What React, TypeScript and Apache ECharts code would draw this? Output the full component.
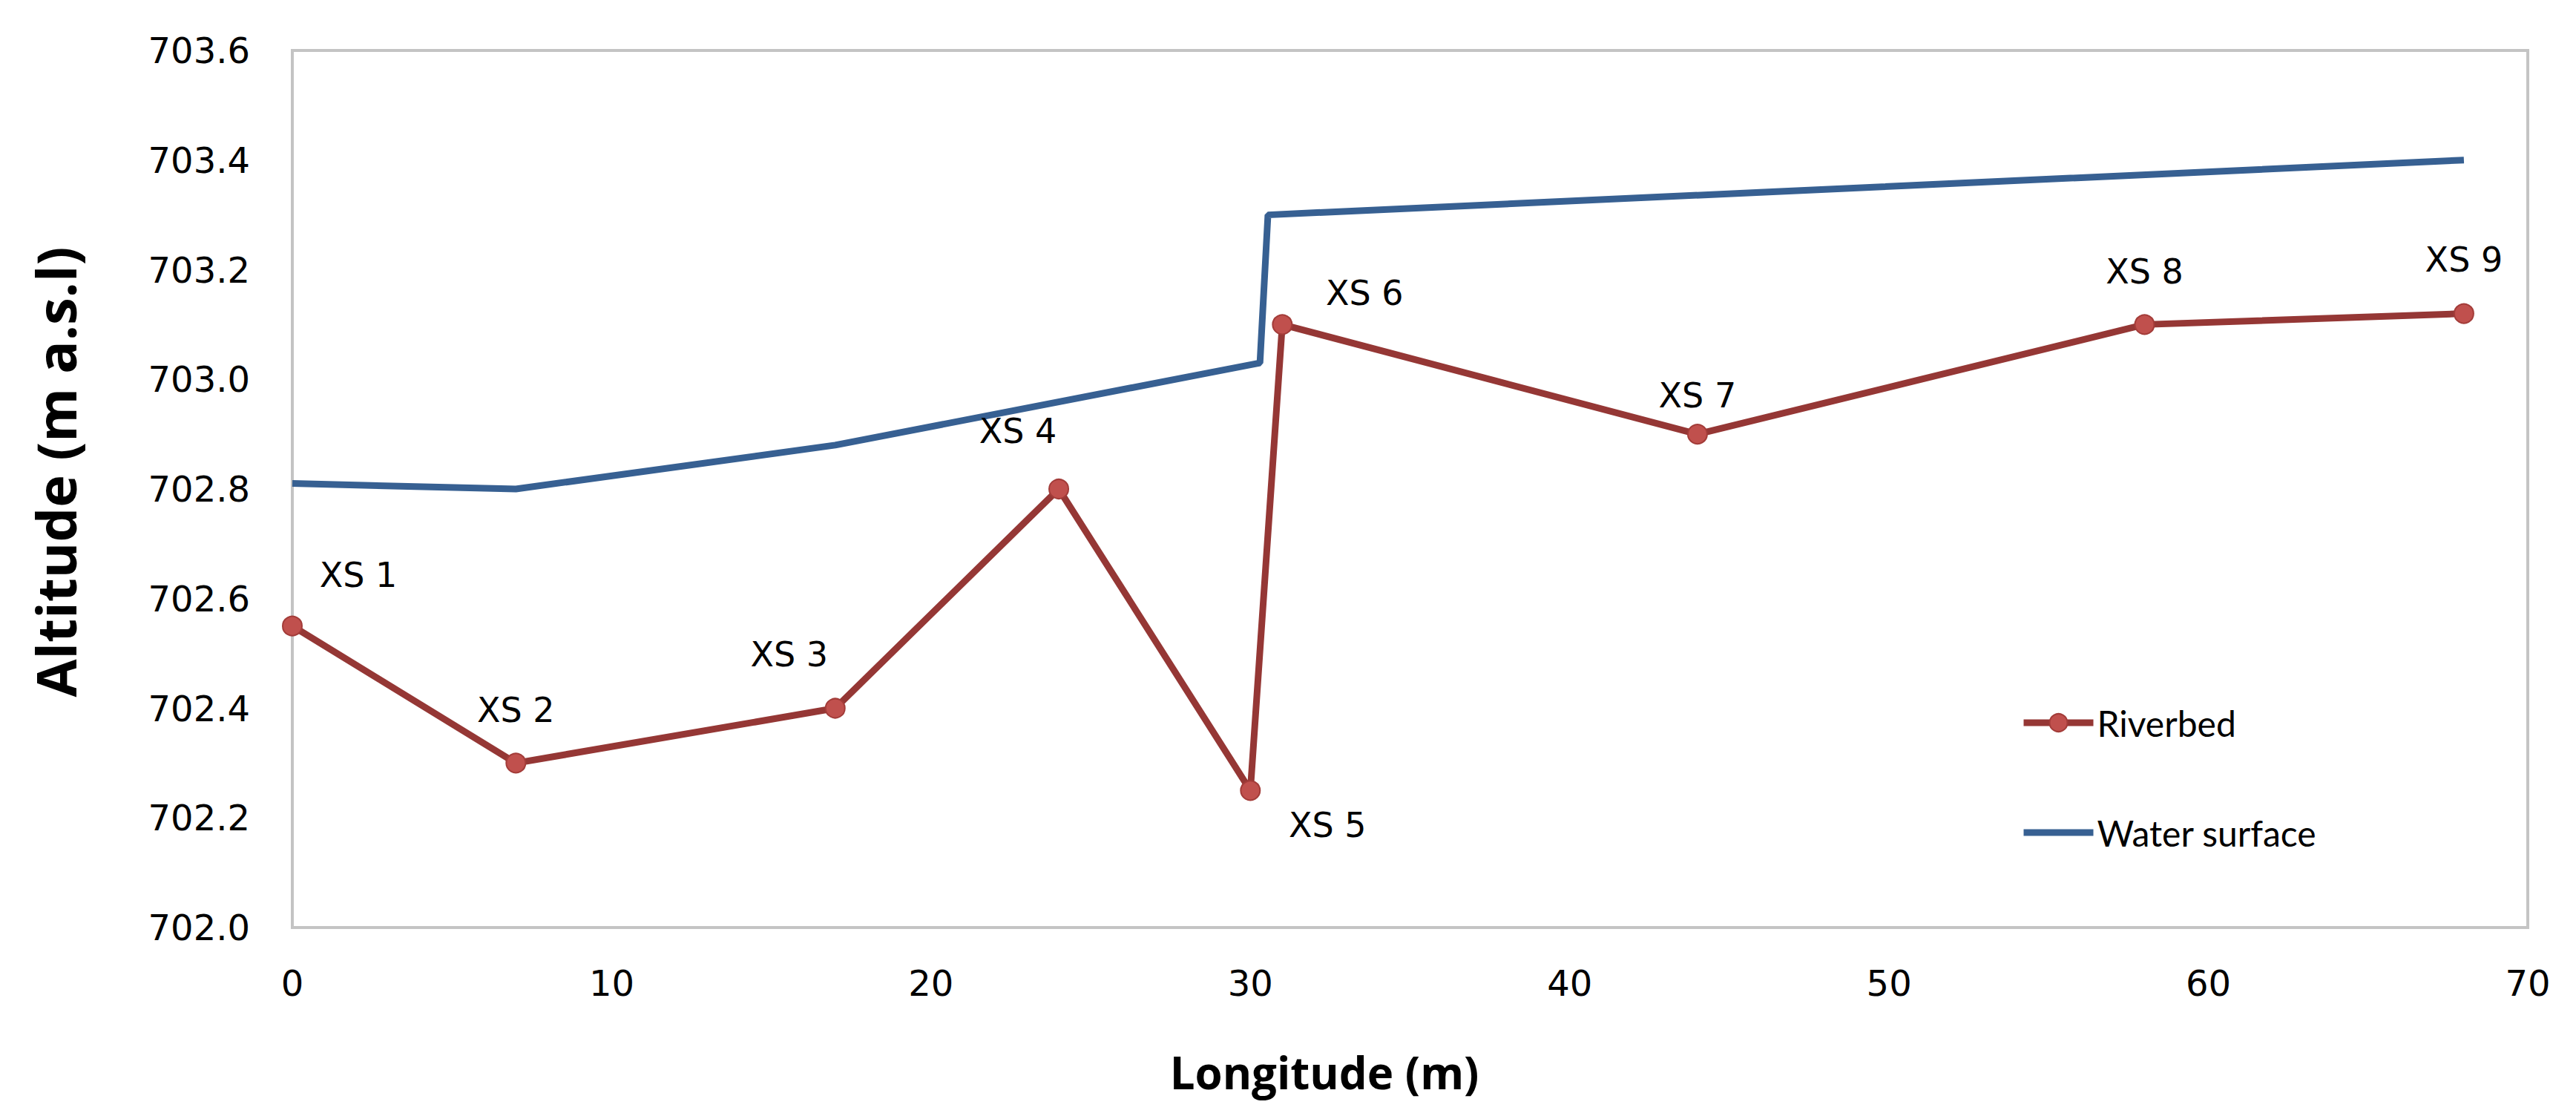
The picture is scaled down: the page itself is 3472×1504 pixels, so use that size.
import React, { useEffect, useRef } from "react";
import * as echarts from "echarts";

// ---- data ----
const sectionNames = ["XS 1", "XS 2", "XS 3", "XS 4", "XS 5", "XS 6", "XS 7", "XS 8", "XS 9"];
const riverbedX = [0, 7, 17, 24, 30, 31, 44, 58, 68];
const riverbedY = [702.55, 702.3, 702.4, 702.8, 702.25, 703.1, 702.9, 703.1, 703.12];
const waterX = [0, 7, 17, 30.3, 30.55, 68];
const waterY = [702.81, 702.8, 702.88, 703.03, 703.3, 703.4];
const xTicks = { min: 0, max: 70, interval: 10 };
const yTicks = { min: 702, max: 703.6, interval: 0.2 };

// label offsets (pixels) for each section label, relative to its marker
const labelOffsets: [number, number][] = [
  [89, -69],
  [0, -71],
  [-62, -73],
  [-55, -78],
  [104, 47],
  [111, -42],
  [0, -52],
  [0, -71],
  [0, -73],
];

const TICK_FONT = "DejaVu Sans";
const TITLE_FONT = "Open Sans";

export default function App() {
  const ref = useRef<HTMLDivElement>(null);
  useEffect(() => {
    if (!ref.current) return;
    const chart = echarts.init(ref.current, undefined, { renderer: "svg" });
    const option = {
      animation: false,
      backgroundColor: "#ffffff",
      grid: {
        left: 394,
        right: 65,
        top: 68,
        bottom: 254,
        show: true,
        borderColor: "#c4c4c4",
        borderWidth: 4,
        backgroundColor: "transparent",
        containLabel: false,
      },
      legend: {
        orient: "vertical",
        left: 2718,
        top: 939,
        itemWidth: 94,
        itemHeight: 30,
        itemGap: 88,
        lineStyle: { width: 9 },
        data: [
          { name: "Riverbed" },
          { name: "Water surface", icon: "path://M0,0L94,0L94,9L0,9Z" },
        ],
        textStyle: { fontFamily: "Lato", fontSize: 48, color: "#000", lineHeight: 60 },
      },
      xAxis: {
        type: "value",
        min: xTicks.min,
        max: xTicks.max,
        interval: xTicks.interval,
        axisLine: { show: false },
        axisTick: { show: false },
        splitLine: { show: false },
        axisLabel: { fontFamily: TICK_FONT, fontSize: 48, color: "#000", margin: 51 },
      },
      yAxis: {
        type: "value",
        min: yTicks.min,
        max: yTicks.max,
        interval: yTicks.interval,
        axisLine: { show: false },
        axisTick: { show: false },
        splitLine: { show: false },
        axisLabel: {
          fontFamily: TICK_FONT,
          fontSize: 48,
          color: "#000",
          margin: 57,
          formatter: (v: number) => v.toFixed(1),
        },
      },
      graphic: [
        {
          type: "text",
          x: 1785,
          y: 1445,
          style: {
            text: "Longitude (m)",
            fontFamily: TITLE_FONT,
            fontWeight: "bold",
            fontSize: 60,
            fill: "#000",
            textAlign: "center",
            textVerticalAlign: "middle",
          },
        },
        {
          type: "text",
          x: 74,
          y: 636,
          rotation: Math.PI / 2,
          style: {
            text: "Altitude (m a.s.l)",
            fontFamily: TITLE_FONT,
            fontWeight: "bold",
            fontSize: 74,
            fill: "#000",
            textAlign: "center",
            textVerticalAlign: "middle",
          },
        },
      ],
      series: [
        {
          name: "Water surface",
          type: "line",
          symbol: "none",
          z: 2,
          lineStyle: { color: "#376092", width: 9 },
          itemStyle: { color: "#376092" },
          data: waterX.map((x, i) => [x, waterY[i]]),
        },
        {
          name: "Riverbed",
          type: "line",
          symbol: "circle",
          symbolSize: 26,
          z: 3,
          lineStyle: { color: "#953735", width: 9 },
          itemStyle: { color: "#C0504D", borderColor: "#A33C39", borderWidth: 2 },
          data: riverbedX.map((x, i) => ({
            value: [x, riverbedY[i]],
            label: {
              show: true,
              formatter: sectionNames[i],
              position: "inside",
              offset: labelOffsets[i],
              fontFamily: TICK_FONT,
              fontSize: 46,
              color: "#000",
              textBorderWidth: 0,
            },
          })),
        },
      ],
    };
    chart.setOption(option as any);
    return () => chart.dispose();
  }, []);
  return (
    <div
      ref={ref}
      style={{ position: "absolute", left: 0, top: 0, width: 3472, height: 1504 }}
    />
  );
}
